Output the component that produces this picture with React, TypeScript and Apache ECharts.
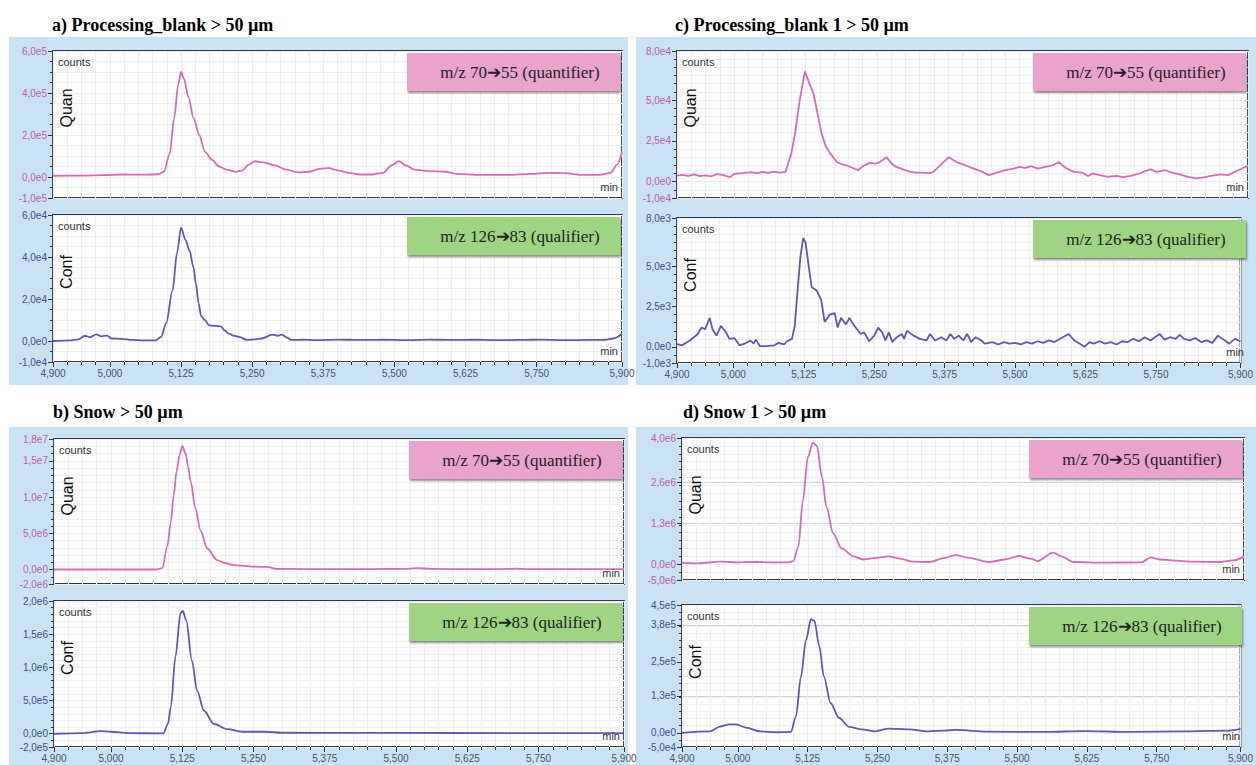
import React, { useEffect, useRef } from "react";
import * as echarts from "echarts";

// ---------- axis data ----------
const X_MIN = 4.9;
const X_MAX = 5.9;
const X_TICKS = [4.9, 5.0, 5.125, 5.25, 5.375, 5.5, 5.625, 5.75, 5.9];
const X_TICK_LABELS = ["4,900", "5,000", "5,125", "5,250", "5,375", "5,500", "5,625", "5,750", "5,900"];

const TITLES = [
  "a) Processing_blank > 50 µm",
  "c) Processing_blank 1 > 50 µm",
  "b) Snow > 50 µm",
  "d) Snow 1 > 50 µm",
];
const QUAN_NAME = "Quan";
const CONF_NAME = "Conf";
const QUAN_TAG = "m/z 70➔55 (quantifier)";
const CONF_TAG = "m/z 126➔83 (qualifier)";

const A_QUAN_TICKS = [-1e5, 0, 2e5, 4e5, 6e5];
const A_QUAN_LABELS = ["-1,0e5", "0,0e0", "2,0e5", "4,0e5", "6,0e5"];
const A_CONF_TICKS = [-1e4, 0, 2e4, 4e4, 6e4];
const A_CONF_LABELS = ["-1,0e4", "0,0e0", "2,0e4", "4,0e4", "6,0e4"];
const C_QUAN_TICKS = [-1e4, 0, 2.5e4, 5e4, 8e4];
const C_QUAN_LABELS = ["-1,0e4", "0,0e0", "2,5e4", "5,0e4", "8,0e4"];
const C_CONF_TICKS = [-1e3, 0, 2.5e3, 5e3, 8e3];
const C_CONF_LABELS = ["-1,0e3", "0,0e0", "2,5e3", "5,0e3", "8,0e3"];
const B_QUAN_TICKS = [-2e6, 0, 5e6, 1e7, 1.5e7, 1.8e7];
const B_QUAN_LABELS = ["-2,0e6", "0,0e0", "5,0e6", "1,0e7", "1,5e7", "1,8e7"];
const B_CONF_TICKS = [-2e5, 0, 5e5, 1e6, 1.5e6, 2e6];
const B_CONF_LABELS = ["-2,0e5", "0,0e0", "5,0e5", "1,0e6", "1,5e6", "2,0e6"];
const D_QUAN_TICKS = [-5e5, 0, 1.3e6, 2.6e6, 4e6];
const D_QUAN_LABELS = ["-5,0e6", "0,0e0", "1,3e6", "2,6e6", "4,0e6"];
const D_CONF_TICKS = [-5e4, 0, 1.3e5, 2.5e5, 3.8e5, 4.5e5];
const D_CONF_LABELS = ["-5,0e4", "0,0e0", "1,3e5", "2,5e5", "3,8e5", "4,5e5"];

// ---------- series data [min, counts] ----------
const A_QUAN = [
  [4.9, 6000], [4.95, 7000], [4.99, 9000], [5.02, 12000], [5.06, 11000], [5.085, 13000],
  [5.095, 25000], [5.105, 110000], [5.113, 280000], [5.12, 440000], [5.125, 500000],
  [5.13, 470000], [5.138, 380000], [5.147, 280000], [5.157, 200000], [5.167, 120000],
  [5.18, 80000], [5.192, 50000], [5.205, 35000], [5.22, 25000], [5.232, 30000],
  [5.245, 60000], [5.255, 75000], [5.27, 70000], [5.29, 55000], [5.31, 35000],
  [5.33, 22000], [5.35, 25000], [5.37, 40000], [5.385, 42000], [5.4, 32000],
  [5.42, 20000], [5.44, 12000], [5.46, 12000], [5.48, 20000], [5.495, 55000],
  [5.508, 76000], [5.52, 55000], [5.535, 35000], [5.56, 28000], [5.59, 25000],
  [5.61, 15000], [5.65, 10000], [5.7, 10000], [5.74, 15000], [5.77, 20000],
  [5.8, 18000], [5.83, 10000], [5.86, 10000], [5.88, 20000], [5.892, 60000], [5.9, 120000],
];
const A_CONF = [
  [4.9, 0], [4.93, 300], [4.945, 800], [4.956, 2500], [4.965, 1800], [4.976, 3200],
  [4.985, 2200], [4.995, 2600], [5.003, 1200], [5.02, 1000], [5.04, 500], [5.06, 300],
  [5.08, 300], [5.09, 2000], [5.099, 8500], [5.11, 24000], [5.118, 42000], [5.125, 54000],
  [5.133, 48000], [5.14, 43000], [5.147, 35000], [5.151, 27500], [5.156, 18000],
  [5.16, 12000], [5.167, 10000], [5.174, 7500], [5.185, 7200], [5.195, 7000],
  [5.202, 5000], [5.209, 3500], [5.218, 2500], [5.227, 2000], [5.241, 500], [5.255, 800],
  [5.267, 1200], [5.285, 3000], [5.295, 2500], [5.302, 3000], [5.312, 1500], [5.32, 500],
  [5.34, 600], [5.36, 400], [5.4, 700], [5.44, 500], [5.48, 600], [5.52, 400], [5.56, 700],
  [5.6, 500], [5.64, 600], [5.68, 400], [5.72, 500], [5.76, 700], [5.8, 400], [5.84, 500],
  [5.87, 600], [5.885, 1200], [5.9, 3300],
];
const C_QUAN = [
  [4.9, 3700], [4.91, 4200], [4.92, 3600], [4.93, 4500], [4.94, 3400], [4.95, 3900],
  [4.96, 3300], [4.97, 4600], [4.98, 4200], [4.993, 2800], [5.0, 4800], [5.015, 5200],
  [5.03, 5800], [5.04, 5200], [5.05, 6000], [5.06, 5400], [5.07, 6200], [5.08, 5500],
  [5.09, 6000], [5.1, 17000], [5.107, 30000], [5.115, 50000], [5.124, 67500],
  [5.132, 60000], [5.139, 54000], [5.146, 42000], [5.153, 30000], [5.16, 22000],
  [5.168, 17500], [5.18, 12000], [5.19, 10500], [5.197, 10000], [5.207, 8500],
  [5.217, 7000], [5.228, 10000], [5.238, 11500], [5.248, 11000], [5.255, 12000],
  [5.267, 15000], [5.276, 11000], [5.284, 9000], [5.296, 7500], [5.308, 6000],
  [5.32, 5500], [5.331, 5500], [5.342, 5200], [5.349, 6000], [5.364, 11000],
  [5.376, 15000], [5.39, 12000], [5.405, 10000], [5.42, 8000], [5.435, 6000],
  [5.446, 4000], [5.46, 5500], [5.475, 7000], [5.49, 8000], [5.499, 9000], [5.51, 8500],
  [5.52, 9500], [5.532, 8000], [5.545, 9000], [5.558, 10000], [5.569, 12000],
  [5.58, 8500], [5.595, 6000], [5.61, 5500], [5.62, 3500], [5.628, 5000], [5.64, 4000],
  [5.655, 3000], [5.67, 3500], [5.681, 2800], [5.695, 3500], [5.71, 5000], [5.72, 6500],
  [5.729, 7500], [5.74, 6000], [5.755, 7000], [5.767, 5500], [5.78, 4500], [5.795, 3000],
  [5.809, 2000], [5.82, 2500], [5.835, 3500], [5.852, 4500], [5.865, 4000], [5.88, 6500],
  [5.895, 9000], [5.9, 9500],
];
const C_CONF = [
  [4.9, 170], [4.909, 100], [4.923, 400], [4.937, 800], [4.943, 1200], [4.95, 1100],
  [4.958, 1800], [4.963, 1100], [4.97, 700], [4.978, 1300], [4.987, 900], [4.993, 500],
  [5.002, 550], [5.011, 100], [5.02, 200], [5.03, 400], [5.036, 200], [5.04, 450],
  [5.047, 50], [5.058, 50], [5.073, 100], [5.08, 250], [5.09, 150], [5.095, 350],
  [5.104, 500], [5.109, 1300], [5.114, 3500], [5.119, 5600], [5.124, 6750], [5.128, 6500],
  [5.133, 5200], [5.139, 3700], [5.148, 3500], [5.156, 2900], [5.162, 1550], [5.171, 2000],
  [5.18, 2100], [5.185, 1200], [5.191, 1800], [5.2, 1400], [5.206, 1800], [5.215, 1300],
  [5.226, 800], [5.232, 900], [5.241, 350], [5.25, 700], [5.257, 1200], [5.264, 900],
  [5.27, 400], [5.276, 900], [5.282, 300], [5.29, 600], [5.299, 800], [5.303, 500],
  [5.308, 1000], [5.32, 700], [5.331, 500], [5.343, 400], [5.349, 800], [5.358, 400],
  [5.369, 600], [5.378, 400], [5.385, 800], [5.392, 500], [5.4, 700], [5.408, 400],
  [5.415, 800], [5.422, 300], [5.43, 600], [5.44, 400], [5.446, 200], [5.46, 300],
  [5.47, 150], [5.48, 300], [5.49, 200], [5.5, 250], [5.51, 150], [5.52, 300], [5.53, 200],
  [5.54, 350], [5.55, 250], [5.56, 400], [5.57, 300], [5.58, 500], [5.595, 800],
  [5.605, 400], [5.615, 200], [5.623, 0], [5.632, 300], [5.64, 200], [5.65, 350],
  [5.66, 200], [5.67, 300], [5.68, 150], [5.69, 350], [5.7, 300], [5.71, 500], [5.72, 350],
  [5.73, 600], [5.74, 400], [5.75, 650], [5.757, 800], [5.765, 450], [5.775, 600],
  [5.785, 500], [5.792, 750], [5.8, 500], [5.81, 400], [5.82, 550], [5.83, 300],
  [5.84, 400], [5.85, 250], [5.86, 700], [5.87, 450], [5.88, 200], [5.89, 500], [5.9, 350],
];
const B_QUAN = [
  [4.9, 0], [5.0, 0], [5.08, 0], [5.09, 200000], [5.099, 3300000], [5.105, 6500000],
  [5.11, 10200000], [5.115, 13500000], [5.12, 15700000], [5.125, 17000000],
  [5.131, 16000000], [5.135, 14300000], [5.14, 12100000], [5.148, 8400000],
  [5.157, 5400000], [5.169, 2900000], [5.186, 1300000], [5.2, 900000], [5.215, 600000],
  [5.25, 400000], [5.274, 350000], [5.29, 100000], [5.35, 50000], [5.45, 50000],
  [5.52, 100000], [5.54, 200000], [5.56, 80000], [5.65, 50000], [5.7, 80000],
  [5.71, 120000], [5.73, 60000], [5.9, 60000],
];
const B_CONF = [
  [4.9, 0], [4.95, 10000], [4.982, 40000], [5.0, 30000], [5.03, 10000], [5.092, 5000],
  [5.1, 150000], [5.105, 400000], [5.113, 1160000], [5.122, 1820000], [5.126, 1850000],
  [5.132, 1710000], [5.142, 1100000], [5.151, 650000], [5.163, 350000], [5.18, 150000],
  [5.204, 70000], [5.23, 30000], [5.27, 30000], [5.3, 15000], [5.5, 12000], [5.7, 10000],
  [5.9, 10000],
];
const D_QUAN = [
  [4.9, 40000], [4.93, 30000], [4.968, 80000], [5.0, 60000], [5.03, 70000], [5.06, 60000],
  [5.09, 60000], [5.098, 100000], [5.107, 550000], [5.115, 2000000], [5.124, 3400000],
  [5.133, 3850000], [5.14, 3750000], [5.149, 2770000], [5.157, 1820000], [5.169, 980000],
  [5.184, 500000], [5.205, 250000], [5.222, 150000], [5.246, 200000], [5.267, 250000],
  [5.288, 180000], [5.311, 80000], [5.341, 70000], [5.368, 200000], [5.387, 290000],
  [5.41, 200000], [5.446, 70000], [5.475, 150000], [5.5, 260000], [5.52, 180000],
  [5.533, 100000], [5.56, 370000], [5.575, 250000], [5.597, 70000], [5.65, 50000],
  [5.718, 60000], [5.734, 220000], [5.75, 150000], [5.772, 120000], [5.81, 80000],
  [5.859, 70000], [5.88, 120000], [5.9, 240000],
];
const D_CONF = [
  [4.9, 0], [4.95, 5000], [4.968, 22000], [4.985, 30000], [4.997, 30000], [5.015, 18000],
  [5.04, 5000], [5.07, 2000], [5.095, 3000], [5.104, 57000], [5.113, 198000],
  [5.122, 327000], [5.131, 400000], [5.137, 395000], [5.146, 304000], [5.154, 198000],
  [5.166, 105000], [5.181, 53000], [5.199, 21000], [5.222, 12000], [5.246, 5000],
  [5.27, 15000], [5.306, 12000], [5.341, 5000], [5.37, 8000], [5.39, 10000], [5.45, 4000],
  [5.55, 3000], [5.62, 6000], [5.7, 3000], [5.8, 5000], [5.88, 8000], [5.9, 14000],
];

// ---------- styling ----------
const BG = "#c9e3f4";
const QUAN_LINE = "#d46cb7";
const CONF_LINE = "#5f57b6";
const QUAN_LABEL = "#bb61a2";
const CONF_LABEL = "#3f4b8f";
const PINK = "#eaa3cb";
const GREEN = "#9fd482";
const SERIF_FAMILY = "Liberation Serif";
const SANS_FAMILY = "Liberation Sans";

const PANELS = [
  {
    title: TITLES[0], bg: [9, 37, 619, 348], tx: 52, ty: 25, left: 53, width: 569,
    subs: [
      { top: 51, height: 147, quan: true, data: A_QUAN, ticks: A_QUAN_TICKS, labels: A_QUAN_LABELS, minor: 5e4, smooth: 0.3 },
      { top: 215, height: 147, quan: false, data: A_CONF, ticks: A_CONF_TICKS, labels: A_CONF_LABELS, minor: 5e3, smooth: 0.3 },
    ],
  },
  {
    title: TITLES[1], bg: [636, 37, 620, 348], tx: 675, ty: 25, left: 677, width: 571,
    subs: [
      { top: 51, height: 147, quan: true, data: C_QUAN, ticks: C_QUAN_TICKS, labels: C_QUAN_LABELS, minor: 5e3, smooth: false },
      { top: 218, height: 145, quan: false, data: C_CONF, ticks: C_CONF_TICKS, labels: C_CONF_LABELS, minor: 5e2, smooth: false },
    ],
  },
  {
    title: TITLES[2], bg: [9, 427, 619, 338], tx: 53, ty: 412, left: 54, width: 570,
    subs: [
      { top: 439, height: 145, quan: true, data: B_QUAN, ticks: B_QUAN_TICKS, labels: B_QUAN_LABELS, minor: 1e6, smooth: 0.3 },
      { top: 601, height: 146, quan: false, data: B_CONF, ticks: B_CONF_TICKS, labels: B_CONF_LABELS, minor: 1e5, smooth: 0.3 },
    ],
  },
  {
    title: TITLES[3], bg: [636, 427, 620, 338], tx: 683, ty: 412, left: 682, width: 562,
    subs: [
      { top: 438, height: 142, quan: true, data: D_QUAN, ticks: D_QUAN_TICKS, labels: D_QUAN_LABELS, minor: 2.5e5, smooth: 0.3 },
      { top: 605, height: 142, quan: false, data: D_CONF, ticks: D_CONF_TICKS, labels: D_CONF_LABELS, minor: 2.5e4, smooth: 0.3 },
    ],
  },
];

function buildOption() {
  const grid: any[] = [];
  const xAxis: any[] = [];
  const yAxis: any[] = [];
  const series: any[] = [];
  const graphic: any[] = [];

  PANELS.forEach((p) => {
    graphic.push({
      type: "rect", z: -10, silent: true,
      shape: { x: p.bg[0], y: p.bg[1], width: p.bg[2], height: p.bg[3] },
      style: { fill: BG },
    });
    graphic.push({
      type: "text", x: p.tx, y: p.ty, z: 100, silent: true,
      style: {
        text: p.title, fontFamily: SERIF_FAMILY, fontWeight: "bold", fontSize: 18,
        fill: "#000", align: "left", verticalAlign: "middle",
      },
    });

    p.subs.forEach((s, j) => {
      const isBottom = j === 1;
      const gi = grid.length;
      const ymin = s.ticks[0];
      const ymax = s.ticks[s.ticks.length - 1];
      grid.push({
        left: p.left, top: s.top, width: p.width, height: s.height,
        show: true, backgroundColor: "#ffffff", borderColor: "#2e3a48", borderWidth: 1.8,
      });
      const xi = xAxis.length;
      xAxis.push({
        type: "value", gridIndex: gi, position: "bottom", min: X_MIN, max: X_MAX,
        axisLine: { show: false, onZero: false },
        axisTick: { show: isBottom, customValues: X_TICKS, length: 5, lineStyle: { color: "#333" } },
        axisLabel: {
          show: isBottom, customValues: X_TICKS, fontSize: 10, fontFamily: SANS_FAMILY, color: "#4a5070",
          margin: 6, showMinLabel: true, showMaxLabel: true, hideOverlap: false,
          formatter: (v: number) => {
            const k = X_TICKS.findIndex((t) => Math.abs(t - v) < 1e-9);
            return k >= 0 ? X_TICK_LABELS[k] : "";
          },
        },
        splitLine: { show: true, lineStyle: { color: "#c8c8c8", width: 1 } },
      });
      xAxis.push({
        type: "value", gridIndex: gi, position: "bottom", min: X_MIN, max: X_MAX, interval: 0.025,
        axisLine: { show: false, onZero: false },
        axisTick: { show: isBottom, length: 3, lineStyle: { color: "#333" } },
        axisLabel: { show: false },
        splitLine: { show: true, lineStyle: { color: "#efefef", width: 1 } },
      });
      const yi = yAxis.length;
      yAxis.push({
        type: "value", gridIndex: gi, position: "left", min: ymin, max: ymax,
        axisLine: { show: false, onZero: false },
        axisTick: { show: true, customValues: s.ticks, length: 5, lineStyle: { color: "#333" } },
        axisLabel: {
          show: true, customValues: s.ticks, fontSize: 10, fontFamily: SANS_FAMILY, margin: 6,
          color: s.quan ? QUAN_LABEL : CONF_LABEL, showMinLabel: true, showMaxLabel: true, hideOverlap: false,
          formatter: (v: number) => {
            const k = s.ticks.findIndex((t) => Math.abs(t - v) < 1e-9 * Math.max(1, Math.abs(t)));
            return k >= 0 ? s.labels[k] : "";
          },
        },
        splitLine: { show: true, lineStyle: { color: "#d0d0d0", width: 1 } },
      });
      yAxis.push({
        type: "value", gridIndex: gi, position: "left", min: ymin, max: ymax, interval: s.minor,
        axisLine: { show: false, onZero: false },
        axisTick: { show: true, length: 3, lineStyle: { color: "#333" } },
        axisLabel: { show: false },
        splitLine: { show: true, lineStyle: { color: "#efefef", width: 1 } },
      });
      series.push({
        type: "line", xAxisIndex: xi, yAxisIndex: yi, data: s.data,
        symbol: "none", showSymbol: false, smooth: s.smooth, smoothMonotone: "x",
        lineStyle: { color: s.quan ? QUAN_LINE : CONF_LINE, width: 1.8 },
        z: 5, silent: true,
      });

      const right = p.left + p.width;
      graphic.push({
        type: "text", x: p.left + 5, y: s.top + 11, z: 100, silent: true,
        style: { text: "counts", fontFamily: SANS_FAMILY, fontSize: 11, fill: "#333", align: "left", verticalAlign: "middle" },
      });
      graphic.push({
        type: "text", x: p.left + 13, y: s.top + 57, rotation: Math.PI / 2, z: 100, silent: true,
        style: { text: s.quan ? QUAN_NAME : CONF_NAME, fontFamily: SANS_FAMILY, fontSize: 16, fill: "#111", align: "center", verticalAlign: "middle" },
      });
      graphic.push({
        type: "text", x: right - 4, y: s.height + s.top - 11, z: 100, silent: true,
        style: { text: "min", fontFamily: SANS_FAMILY, fontSize: 11, fill: "#333", align: "right", verticalAlign: "middle" },
      });
      graphic.push({
        type: "rect", z: 100, silent: true,
        shape: { x: right - 215, y: s.top + 2, width: 213, height: 38 },
        style: { fill: s.quan ? PINK : GREEN, shadowBlur: 2, shadowOffsetX: 1, shadowOffsetY: 2, shadowColor: "rgba(0,0,0,0.45)" },
      });
      graphic.push({
        type: "text", z: 101, silent: true, x: right - 102, y: s.top + 21,
        style: {
          text: s.quan ? QUAN_TAG : CONF_TAG, fontFamily: SERIF_FAMILY, fontSize: 17,
          fill: "#222", align: "center", verticalAlign: "middle",
        },
      });
    });
  });

  return { animation: false, backgroundColor: "#ffffff", grid, xAxis, yAxis, series, graphic };
}

export default function App() {
  const ref = useRef<HTMLDivElement>(null);
  useEffect(() => {
    if (!ref.current) return;
    const chart = echarts.init(ref.current, null, { renderer: "svg" });
    chart.setOption(buildOption() as any);
    return () => chart.dispose();
  }, []);
  return (
    <div
      ref={ref}
      style={{ position: "absolute", left: 0, top: 0, width: 1256, height: 765 }}
    />
  );
}
